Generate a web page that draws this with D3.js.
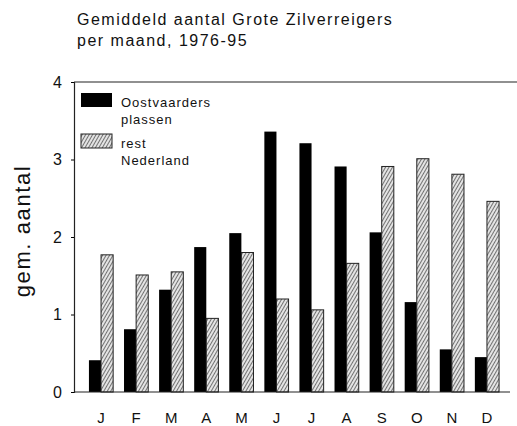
<!DOCTYPE html>
<html><head><meta charset="utf-8">
<script src="https://cdn.jsdelivr.net/npm/d3@7"></script>
<style>body{margin:0;background:#fff}svg{display:block}text{font-family:"Liberation Sans",Arial,sans-serif;fill:#111}</style>
</head><body><svg id="c" width="517" height="426"></svg>
<script>
const months = ["J","F","M","A","M","J","J","A","S","O","N","D"];
const oostvaarders = [0.41,0.81,1.32,1.87,2.05,3.36,3.21,2.91,2.06,1.16,0.55,0.45];
const restNederland = [1.77,1.51,1.55,0.95,1.80,1.20,1.06,1.66,2.91,3.01,2.81,2.46];
const yTicks = [0,1,2,3,4];
const titleLines = ["Gemiddeld aantal Grote Zilverreigers","per maand, 1976-95"];
const yLabel = "gem. aantal";
const legendLabels = [["Oostvaarders","plassen"],["rest","Nederland"]];

const svg = d3.select("#c");
const defs = svg.append("defs");
const pat = defs.append("pattern").attr("id","hatch").attr("patternUnits","userSpaceOnUse")
  .attr("width",3).attr("height",3).attr("patternTransform","rotate(30)");
pat.append("rect").attr("width",3).attr("height",3).attr("fill","#e4e4e4");
pat.append("line").attr("x1",0).attr("y1",0).attr("x2",0).attr("y2",3).attr("stroke","#333").attr("stroke-width",1.3);

const pLeft=74, pRight=510, pTop=82, pBottom=392;
const idx = d3.range(months.length);
const x = d3.scaleBand().domain(idx).range([83.5,504.5]).paddingInner(0.31).paddingOuter(0.155);
const y = d3.scaleLinear().domain([0,4]).range([pBottom,pTop]);

// title
svg.append("g").selectAll("text").data(titleLines).join("text")
  .attr("x",77).attr("y",(d,i)=>25+i*21).attr("font-size",16).attr("letter-spacing",1.5).text(d=>d);

// bars
const bw = x.bandwidth()/2;
svg.append("g").selectAll("rect").data(idx).join("rect")
  .attr("x",i=>x(i)).attr("width",bw).attr("y",i=>y(oostvaarders[i])).attr("height",i=>y(0)-y(oostvaarders[i]))
  .attr("fill","#000");
svg.append("g").selectAll("rect").data(idx).join("rect")
  .attr("x",i=>x(i)+bw).attr("width",bw).attr("y",i=>y(restNederland[i])).attr("height",i=>y(0)-y(restNederland[i]))
  .attr("fill","url(#hatch)").attr("stroke","#222").attr("stroke-width",1);

// frame lines
svg.append("line").attr("x1",pLeft).attr("x2",517).attr("y1",pTop).attr("y2",pTop).attr("stroke","#222").attr("stroke-width",1.2);
svg.append("line").attr("x1",pLeft).attr("x2",pRight).attr("y1",pBottom).attr("y2",pBottom).attr("stroke","#222").attr("stroke-width",1.2);

// y axis
const ya = svg.append("g").attr("transform",`translate(${pLeft},0)`)
  .call(d3.axisLeft(y).tickValues(yTicks).tickSize(3).tickPadding(9).tickFormat(d3.format("d")));
ya.select(".domain").attr("stroke","#222").attr("stroke-width",1.2);
ya.selectAll("text").attr("font-size",16).attr("font-family","Liberation Sans, Arial, sans-serif").attr("fill","#111");

// x labels
svg.append("g").selectAll("text").data(idx).join("text")
  .attr("x",i=>x(i)+x.bandwidth()/2).attr("y",423).attr("text-anchor","middle").attr("font-size",15).text(i=>months[i]);

// y label
svg.append("text").attr("transform","translate(30,231) rotate(-90)").attr("text-anchor","middle")
  .attr("font-size",22).attr("letter-spacing",1.6).text(yLabel);

// legend
const lg = svg.append("g");
const fills = ["#000","url(#hatch)"];
legendLabels.forEach((lines,k)=>{
  const y0 = 93 + k*41;
  lg.append("rect").attr("x",81).attr("y",y0).attr("width",31).attr("height",14).attr("fill",fills[k])
    .attr("stroke","#222").attr("stroke-width",k?1:0);
  lines.forEach((t,j)=>lg.append("text").attr("x",121).attr("y",y0+14+j*17).attr("font-size",13).attr("letter-spacing",1.0).text(t));
});
</script></body></html>
